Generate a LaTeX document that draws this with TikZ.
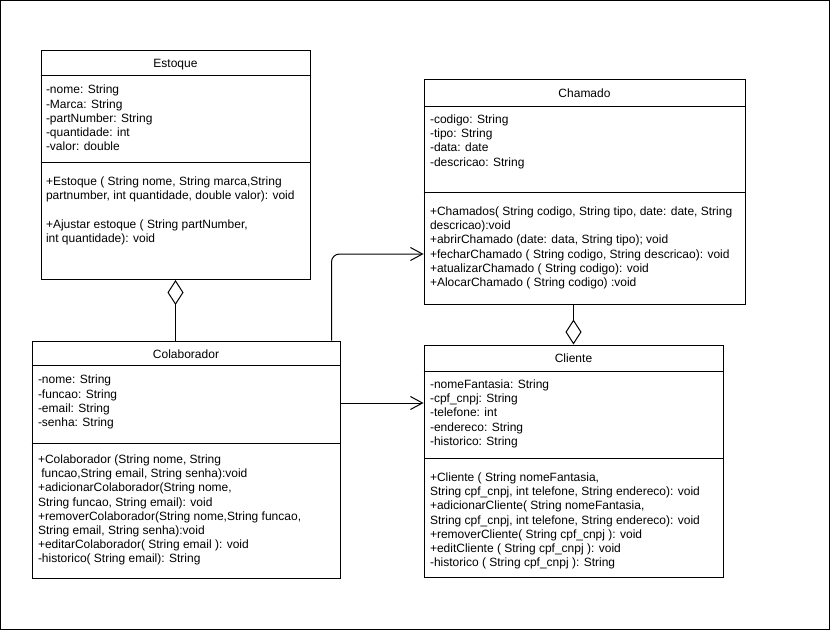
\documentclass[tikz,border=0pt]{standalone}
\usepackage{fontspec}
\setmainfont{Liberation Sans}
\usetikzlibrary{arrows.meta,calc}
% stacked left-aligned text lines; the box baseline is the first line's baseline
\newcommand\umlrows[1]{\vtop{\baselineskip=14.2pt\lineskiplimit=-1000pt\halign{##\hfil\cr#1\crcr}}}
\begin{document}
\begin{tikzpicture}[x=1pt,y=-1pt,line width=1pt,
  font=\fontsize{12}{14.2}\selectfont,
  umlbox/.style 2 args={draw, rectangle, inner sep=0pt, minimum width=#1, minimum height=#2},
  umltitle/.style={inner sep=0pt, anchor=base},
  umlbody/.style={inner sep=0pt, anchor=base west},
  opento/.style={-{Straight Barb[length=12pt,width=13pt]}},
  owner/.style={{Diamond[open,length=25pt,width=16pt]}-}]
\useasboundingbox (0,0) rectangle (832,631);
\draw (0.5,0.5) rectangle (829.5,629.5);

% ---------- Estoque ----------
\node[umlbox={269pt}{229pt}] (estoque) at (175.5,165) {};
\draw ($(estoque.north west)+(0,26)$) -- ($(estoque.north east)+(0,26)$);
\draw ($(estoque.north west)+(0,113)$) -- ($(estoque.north east)+(0,113)$);
\node[umltitle] (estoqueT) at ($(estoque.north)+(0,17.5)$) {Estoque};
\node[umlbody] (estoqueA) at ($(estoque.north west)+(5,44)$) {\umlrows{%
-nome: String\cr
-Marca: String\cr
-partNumber: String\cr
-quantidade: int\cr
-valor: double}};
\node[umlbody] (estoqueM) at ($(estoque.north west)+(5,135.5)$) {\umlrows{%
+Estoque ( String nome, String marca,String\cr
partnumber, int quantidade, double valor): void\cr
\cr
+Ajustar estoque ( String partNumber,\cr
int quantidade): void}};

% ---------- Chamado ----------
\node[umlbox={321pt}{224pt}] (chamado) at (584.5,192) {};
\draw ($(chamado.north west)+(0,27)$) -- ($(chamado.north east)+(0,27)$);
\draw ($(chamado.north west)+(0,113)$) -- ($(chamado.north east)+(0,113)$);
\node[umltitle] (chamadoT) at ($(chamado.north)+(0,17.7)$) {Chamado};
\node[umlbody] (chamadoA) at ($(chamado.north west)+(6,44)$) {\umlrows{%
-codigo: String\cr
-tipo: String\cr
-data: date\cr
-descricao: String}};
\node[umlbody] (chamadoM) at ($(chamado.north west)+(6,136)$) {\umlrows{%
+Chamados( String codigo, String tipo, date: date, String\cr
descricao):void\cr
+abrirChamado (date: data, String tipo); void\cr
+fecharChamado ( String codigo, String descricao): void\cr
+atualizarChamado ( String codigo): void\cr
+AlocarChamado ( String codigo) :void}};

% ---------- Colaborador ----------
\node[umlbox={308pt}{237pt}] (colab) at (186,459.5) {};
\draw ($(colab.north west)+(0,25)$) -- ($(colab.north east)+(0,25)$);
\draw ($(colab.north west)+(0,103)$) -- ($(colab.north east)+(0,103)$);
\node[umltitle] (colabT) at ($(colab.north)+(0,18)$) {Colaborador};
\node[umlbody] (colabA) at ($(colab.north west)+(6,43.3)$) {\umlrows{%
-nome: String\cr
-funcao: String\cr
-email: String\cr
-senha: String}};
\node[umlbody] (colabM) at ($(colab.north west)+(6,123)$) {\umlrows{%
+Colaborador (String nome, String\cr
\ funcao,String email, String senha):void\cr
+adicionarColaborador(String nome,\cr
String funcao, String email): void\cr
+removerColaborador(String nome,String funcao,\cr
String email, String senha):void\cr
+editarColaborador( String email ): void\cr
-historico( String email): String}};

% ---------- Cliente ----------
\node[umlbox={299pt}{232pt}] (cliente) at (573.5,461) {};
\draw ($(cliente.north west)+(0,27)$) -- ($(cliente.north east)+(0,27)$);
\draw ($(cliente.north west)+(0,114)$) -- ($(cliente.north east)+(0,114)$);
\node[umltitle] (clienteT) at ($(cliente.north)+(0,17.7)$) {Cliente};
\node[umlbody] (clienteA) at ($(cliente.north west)+(6,44)$) {\umlrows{%
-nomeFantasia: String\cr
-cpf\_cnpj: String\cr
-telefone: int\cr
-endereco: String\cr
-historico: String}};
\node[umlbody] (clienteM) at ($(cliente.north west)+(6,137)$) {\umlrows{%
+Cliente ( String nomeFantasia,\cr
String cpf\_cnpj, int telefone, String endereco): void\cr
+adicionarCliente( String nomeFantasia,\cr
String cpf\_cnpj, int telefone, String endereco): void\cr
+removerCliente( String cpf\_cnpj ): void\cr
+editCliente ( String cpf\_cnpj ): void\cr
-historico ( String cpf\_cnpj ): String}};

% ---------- connectors ----------
\draw[owner] (estoque.south) -- (estoque.south |- colab.north);
\draw[owner] (cliente.north) -- (cliente.north |- chamado.south);
\coordinate (colabUp) at ($(colab.north east)+(-9,0)$);
\coordinate (chamadoIn) at ($(chamado.west)+(0,62)$);
\draw[opento, rounded corners=8pt] (colabUp) |- (chamadoIn);
\coordinate (clienteIn) at ($(cliente.west)+(0,-58)$);
\draw[opento] (colab.east |- clienteIn) -- (clienteIn);
\end{tikzpicture}
\end{document}
